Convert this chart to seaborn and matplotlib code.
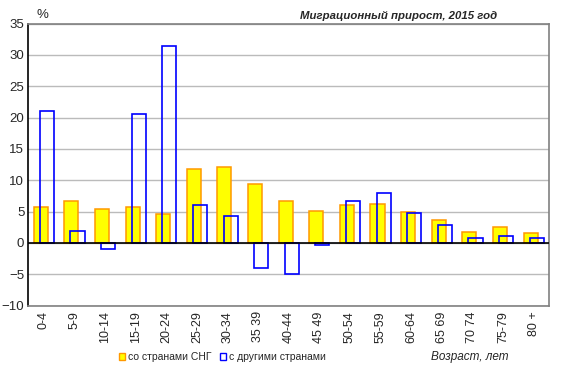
import numpy as np
import pandas as pd
import matplotlib
matplotlib.use("Agg")
import matplotlib.pyplot as plt
import seaborn as sns
from matplotlib.patches import Patch

ages = ["0-4", "5-9", "10-14", "15-19", "20-24", "25-29", "30-34", "35 39", "40-44",
        "45 49", "50-54", "55-59", "60-64", "65 69", "70 74", "75-79", "80 +"]
cis = [5.7, 6.7, 5.4, 5.7, 4.6, 11.8, 12.1, 9.4, 6.7, 5.1, 6.0, 6.2, 4.9, 3.7, 1.7, 2.5, 1.6]
other = [21.0, 1.9, -1.0, 20.6, 31.4, 6.0, 4.3, -4.0, -5.0, -0.3, 6.7, 8.0, 4.8, 2.9, 0.8, 1.1, 0.8]
series_names = ["со странами СНГ", "с другими странами"]

sns.set_style("white")
plt.rcParams['font.family'] = ['Liberation Sans', 'DejaVu Sans']

df = pd.DataFrame({
    "age": ages * 2,
    "value": cis + other,
    "series": [series_names[0]] * len(ages) + [series_names[1]] * len(ages),
})

fig = plt.figure(figsize=(5.63, 3.78), dpi=100)
ax = fig.add_axes([0.0506, 0.1913, 0.9245, 0.7465])

sns.barplot(data=df, x="age", y="value", hue="series", order=ages,
            hue_order=series_names, dodge=True, width=0.4, ax=ax,
            palette=["#FFFF00", "white"], legend=False, errorbar=None)

# overlap the two series like the original
bar_w = 0.46
n = len(ages)
for i, p in enumerate(ax.patches[:2 * n]):
    c = p.get_x() + p.get_width() / 2
    p.set_x(c - bar_w / 2)
    p.set_width(bar_w)
    if i < n:
        p.set_facecolor("#FFFF00")
        p.set_edgecolor("#FF9900")
        p.set_linewidth(1.1)
        p.set_zorder(2)
    else:
        p.set_facecolor("none")
        p.set_edgecolor("#0000FF")
        p.set_linewidth(1.2)
        p.set_zorder(3)

ax.set_xlim(-0.5, n - 0.5)
ax.set_ylim(-10, 35)
ax.set_yticks(range(-10, 36, 5))
ax.yaxis.grid(True, color="#BBBBBB", linewidth=1)
ax.set_axisbelow(True)
ax.axhline(0, color="black", linewidth=1.2, zorder=4)
for s in ["top", "right", "bottom"]:
    ax.spines[s].set_color("#808080")
    ax.spines[s].set_linewidth(1.2)
ax.spines["left"].set_color("black")
ax.spines["left"].set_linewidth(1.2)
ax.tick_params(axis="y", length=0, labelsize=9.5, pad=3)
ax.tick_params(axis="x", length=0, labelsize=9, pad=4)
ax.set_xticks(range(n))
ax.set_xticklabels(ages, rotation=90)
ax.set_xlabel("")
ax.set_ylabel("")

fig.text(0.075, 0.96, "%", fontsize=9.5, ha="center", va="center")
fig.text(0.883, 0.958, "Миграционный прирост, 2015 год", fontsize=8.2,
         fontweight="bold", fontstyle="italic", ha="right", va="center")
fig.text(0.903, 0.055, "Возраст, лет", fontsize=8.5, fontstyle="italic",
         ha="right", va="center")

handles = [Patch(facecolor="#FFFF00", edgecolor="#FF9900"),
           Patch(facecolor="white", edgecolor="#0000FF")]
fig.legend(handles, series_names, loc="center", bbox_to_anchor=(0.395, 0.055),
           ncol=2, frameon=False, fontsize=7.5, handlelength=0.6, handleheight=0.6,
           handletextpad=0.3, columnspacing=0.8)

fig.savefig("out.png", dpi=100)
